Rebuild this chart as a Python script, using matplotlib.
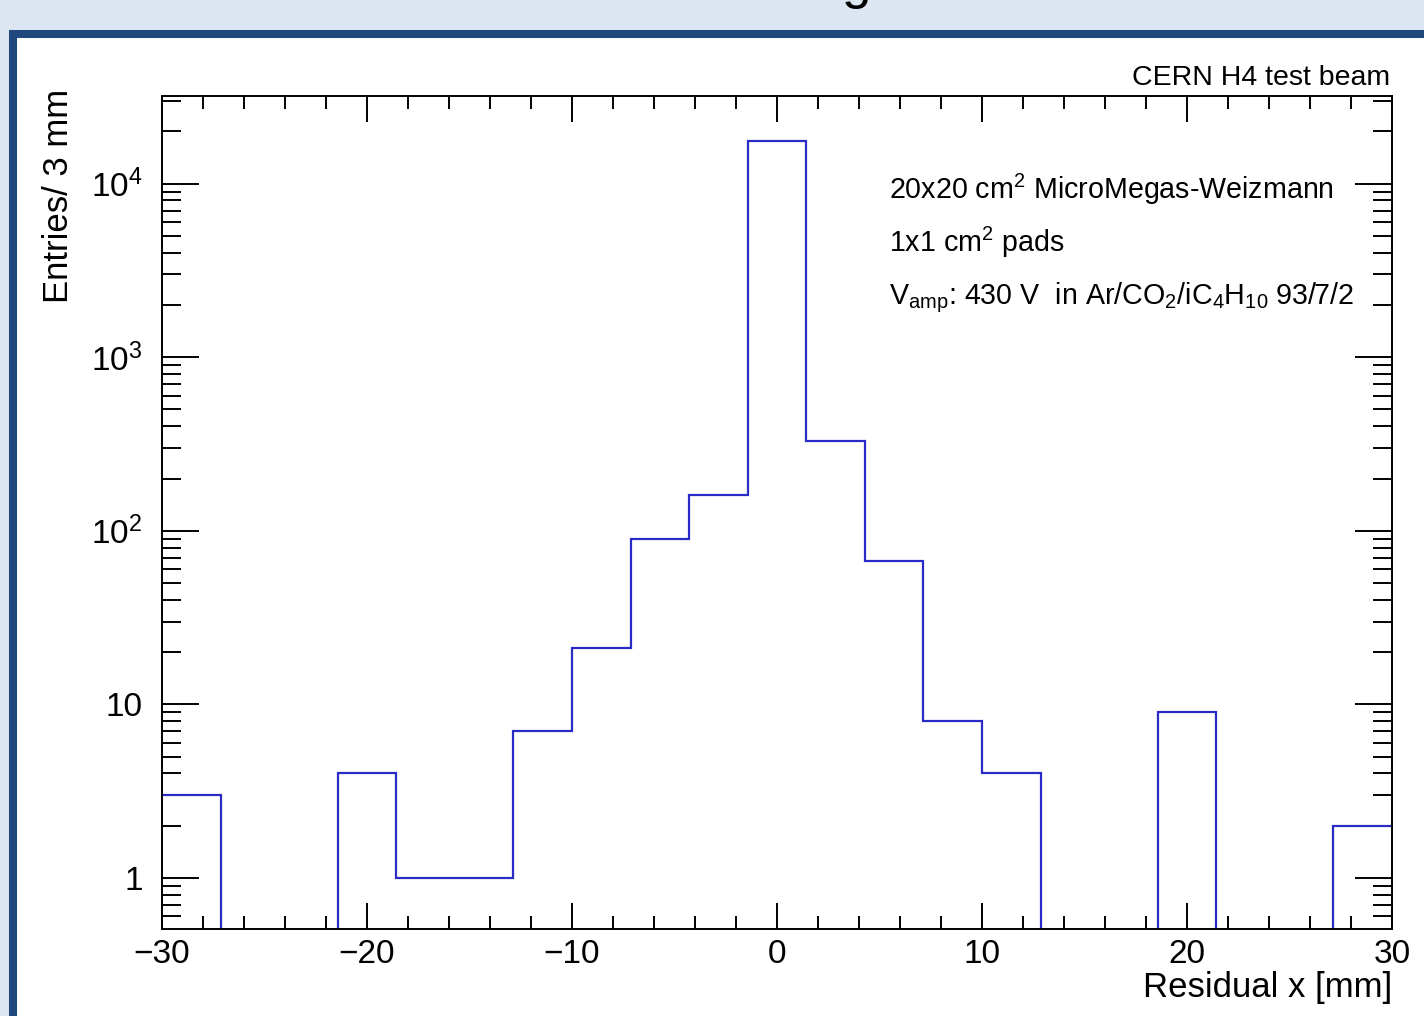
import numpy as np
import matplotlib
matplotlib.use("Agg")
import matplotlib.pyplot as plt
from matplotlib.patches import Rectangle
from matplotlib.ticker import FixedLocator, FixedFormatter, LogLocator, NullFormatter, MultipleLocator

plt.rcParams['font.family'] = ['Liberation Sans', 'DejaVu Sans']
plt.rcParams['mathtext.fontset'] = 'custom'
plt.rcParams['mathtext.rm'] = 'Liberation Sans'
plt.rcParams['mathtext.it'] = 'Liberation Sans:italic'
plt.rcParams['mathtext.bf'] = 'Liberation Sans:bold'

# ---- data ----
x_min, x_max, n_bins = -30.0, 30.0, 21
counts = [3, 0, 0, 4, 1, 1, 7, 21, 90, 160, 17700, 330, 67, 8, 4, 0, 0, 9, 0, 0, 2]
y_tick_values = [1, 10, 100, 1000, 10000]
y_tick_labels = ['1', '10', '10$^{2}$', '10$^{3}$', '10$^{4}$']
x_label = 'Residual x [mm]'
y_label = 'Entries/ 3 mm'
header = 'CERN H4 test beam'
notes = ['20x20 cm$^{2}$ MicroMegas-Weizmann',
         '1x1 cm$^{2}$ pads',
         'V$_{\\mathrm{amp}}$: 430 V  in Ar/CO$_{2}$/iC$_{4}$H$_{10}$ 93/7/2']

W, H = 1424, 1016
fig = plt.figure(figsize=(W / 100, H / 100), dpi=100)
fig.patch.set_facecolor('#dce6f2')

# slide panel with dark blue border
panel = Rectangle((13 / W, -0.2), 1.5, (1 - 34 / H) + 0.2, transform=fig.transFigure,
                  facecolor='white', edgecolor='#1f497d', linewidth=5.8, zorder=0)
fig.add_artist(panel)

# cut-off slide title remnant (only its descender is visible in the reference)
fig.text(842 / W, 1 + 2 / H, 'g', fontsize=38, ha='left', va='baseline', color='black')

ax = fig.add_axes([162 / W, 1 - 929 / H, (1392 - 162) / W, (929 - 96) / H])
ax.set_facecolor('white')

edges = np.linspace(x_min, x_max, n_bins + 1)
vals = np.array(counts, dtype=float)
plot_vals = np.where(vals > 0, vals, 1e-3)
ax.stairs(plot_vals, edges, baseline=None, color='#2a2ac4', linewidth=1.6, zorder=2)

ax.set_yscale('log')
ax.set_xlim(x_min, x_max)
ax.set_ylim(0.508, 32000)

ax.xaxis.set_major_locator(MultipleLocator(10))
ax.xaxis.set_minor_locator(MultipleLocator(2))
ax.yaxis.set_major_locator(FixedLocator(y_tick_values))
ax.yaxis.set_major_formatter(FixedFormatter(y_tick_labels))
ax.yaxis.set_minor_locator(LogLocator(base=10, subs=np.arange(2, 10)))
ax.yaxis.set_minor_formatter(NullFormatter())

for s in ax.spines.values():
    s.set_linewidth(1.4)
    s.set_zorder(3)

ax.tick_params(which='both', direction='in', top=True, right=True, width=1.4, labelsize=24)
ax.tick_params(axis='x', which='major', length=19, pad=7)
ax.tick_params(axis='x', which='minor', length=9.5)
ax.tick_params(axis='y', which='major', length=26.5, pad=14)
ax.tick_params(axis='y', which='minor', length=13.5)

fig.text(1392 / W, 1 - 988 / H, x_label, fontsize=25, ha='right', va='center')
fig.text(58 / W, 1 - 89 / H, y_label, fontsize=25, ha='center', va='top', rotation=90)
fig.text(1390 / W, 1 - 85 / H, header, fontsize=20.5, ha='right', va='baseline')

for txt, yb in zip(notes, [199, 252, 304]):
    fig.text(889 / W, 1 - yb / H, txt, fontsize=20.6, ha='left', va='baseline')

fig.savefig('out.png', dpi=100)
